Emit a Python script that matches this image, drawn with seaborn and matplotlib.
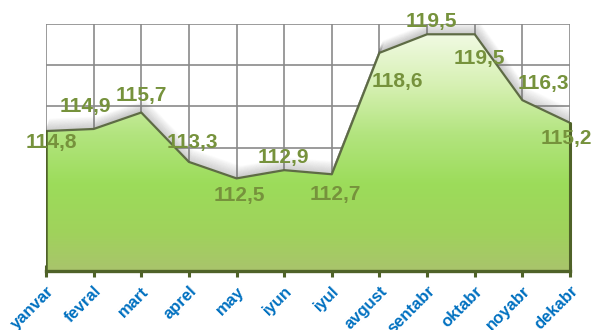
import numpy as np
import pandas as pd
import matplotlib
matplotlib.use("Agg")
import matplotlib.pyplot as plt
import matplotlib.transforms as mtransforms
from matplotlib.colors import LinearSegmentedColormap
import seaborn as sns

months = ["yanvar", "fevral", "mart", "aprel", "may", "iyun",
          "iyul", "avgust", "sentabr", "oktabr", "noyabr", "dekabr"]
values = [114.8, 114.9, 115.7, 113.3, 112.5, 112.9,
          112.7, 118.6, 119.5, 119.5, 116.3, 115.2]
value_labels = ["114,8", "114,9", "115,7", "113,3", "112,5", "112,9",
                "112,7", "118,6", "119,5", "119,5", "116,3", "115,2"]
# label offsets in pixels (dx, dy) relative to each point
label_offsets = [(5, -11), (-8, 22), (0, 17), (3, 19), (3, -17), (-1, 13),
                 (3, -20), (18, -29), (4, 13), (5, -24), (21, 17), (-4, -16)]

df = pd.DataFrame({"x": np.arange(len(months)), "value": values})

sns.set_style("white")
plt.rcParams["font.family"] = ["Liberation Sans", "DejaVu Sans"]

W, H = 591, 330
fig = plt.figure(figsize=(W / 100, H / 100), dpi=100)
ax = fig.add_axes([46 / W, (H - 271) / H, (570 - 46) / W, (271 - 24) / H])

ymin, ymax = 108, 120
ax.set_xlim(0, len(months) - 1)
ax.set_ylim(ymin, ymax)

# grid
ax.set_yticks(np.arange(ymin, ymax + 0.1, 2))
ax.set_xticks(df["x"])
ax.grid(True, color="#8a8a8a", linewidth=1.2, zorder=0)
ax.set_axisbelow(True)

# soft shadow above the series line, fading away from it
n_steps = 24
for i in range(1, n_steps + 1):
    off = mtransforms.offset_copy(ax.transData, fig=fig, x=i * 0.18, y=i * 0.5,
                                  units="dots")
    ax.plot(df["x"], df["value"], color="#707070",
            alpha=0.10 * (1 - i / (n_steps + 1)),
            linewidth=1.5, transform=off, zorder=1.5, solid_joinstyle="round")

# gradient-filled area
cmap = LinearSegmentedColormap.from_list("area", [
    (0.0, "#a9c46c"),
    (0.15, "#a0d25c"),
    (0.35, "#9cdc5a"),
    (0.55, "#b2e47e"),
    (0.75, "#d6f0b2"),
    (1.0, "#f6fcec"),
])
poly = ax.fill_between(df["x"], df["value"], ymin, color="none", zorder=2)
grad = np.linspace(0, 1, 256).reshape(-1, 1)
img = ax.imshow(grad, extent=[0, len(months) - 1, ymin, ymax], origin="lower",
                aspect="auto", cmap=cmap, zorder=2)
img.set_clip_path(poly.get_paths()[0], transform=ax.transData)

# series line and area edges
sns.lineplot(data=df, x="x", y="value", ax=ax, color="#5e6b45", linewidth=1.6,
             zorder=3)
ax.plot([0, 0], [ymin, values[0]], color="#4f6228", linewidth=1.8, zorder=3)
ax.plot([len(months) - 1] * 2, [ymin, values[-1]], color="#4f6228",
        linewidth=2.2, zorder=3, clip_on=False)

# data labels
for x, v, lab, (dx, dy) in zip(df["x"], values, value_labels, label_offsets):
    ax.annotate(lab, (x, v), xytext=(dx * 0.72, dy * 0.72),
                textcoords="offset points", ha="center", va="center",
                fontsize=15, fontweight="bold", color="#76923c", zorder=5,
                annotation_clip=False)

# spines
for s in ["top", "left", "right"]:
    ax.spines[s].set_visible(False)
ax.spines["bottom"].set_color("#4f6228")
ax.spines["bottom"].set_linewidth(2.4)
ax.spines["bottom"].set_zorder(4)

ax.set_ylabel("")
ax.set_xlabel("")
ax.tick_params(axis="y", left=False, labelleft=False)
ax.tick_params(axis="x", bottom=True, direction="inout", length=8, width=2.2,
               color="#4f6228", pad=5)
ax.set_xticklabels(months, rotation=45, ha="right", rotation_mode="anchor",
                   fontsize=12, fontweight="bold", color="#0070c0")

fig.savefig("out.png", dpi=100)
